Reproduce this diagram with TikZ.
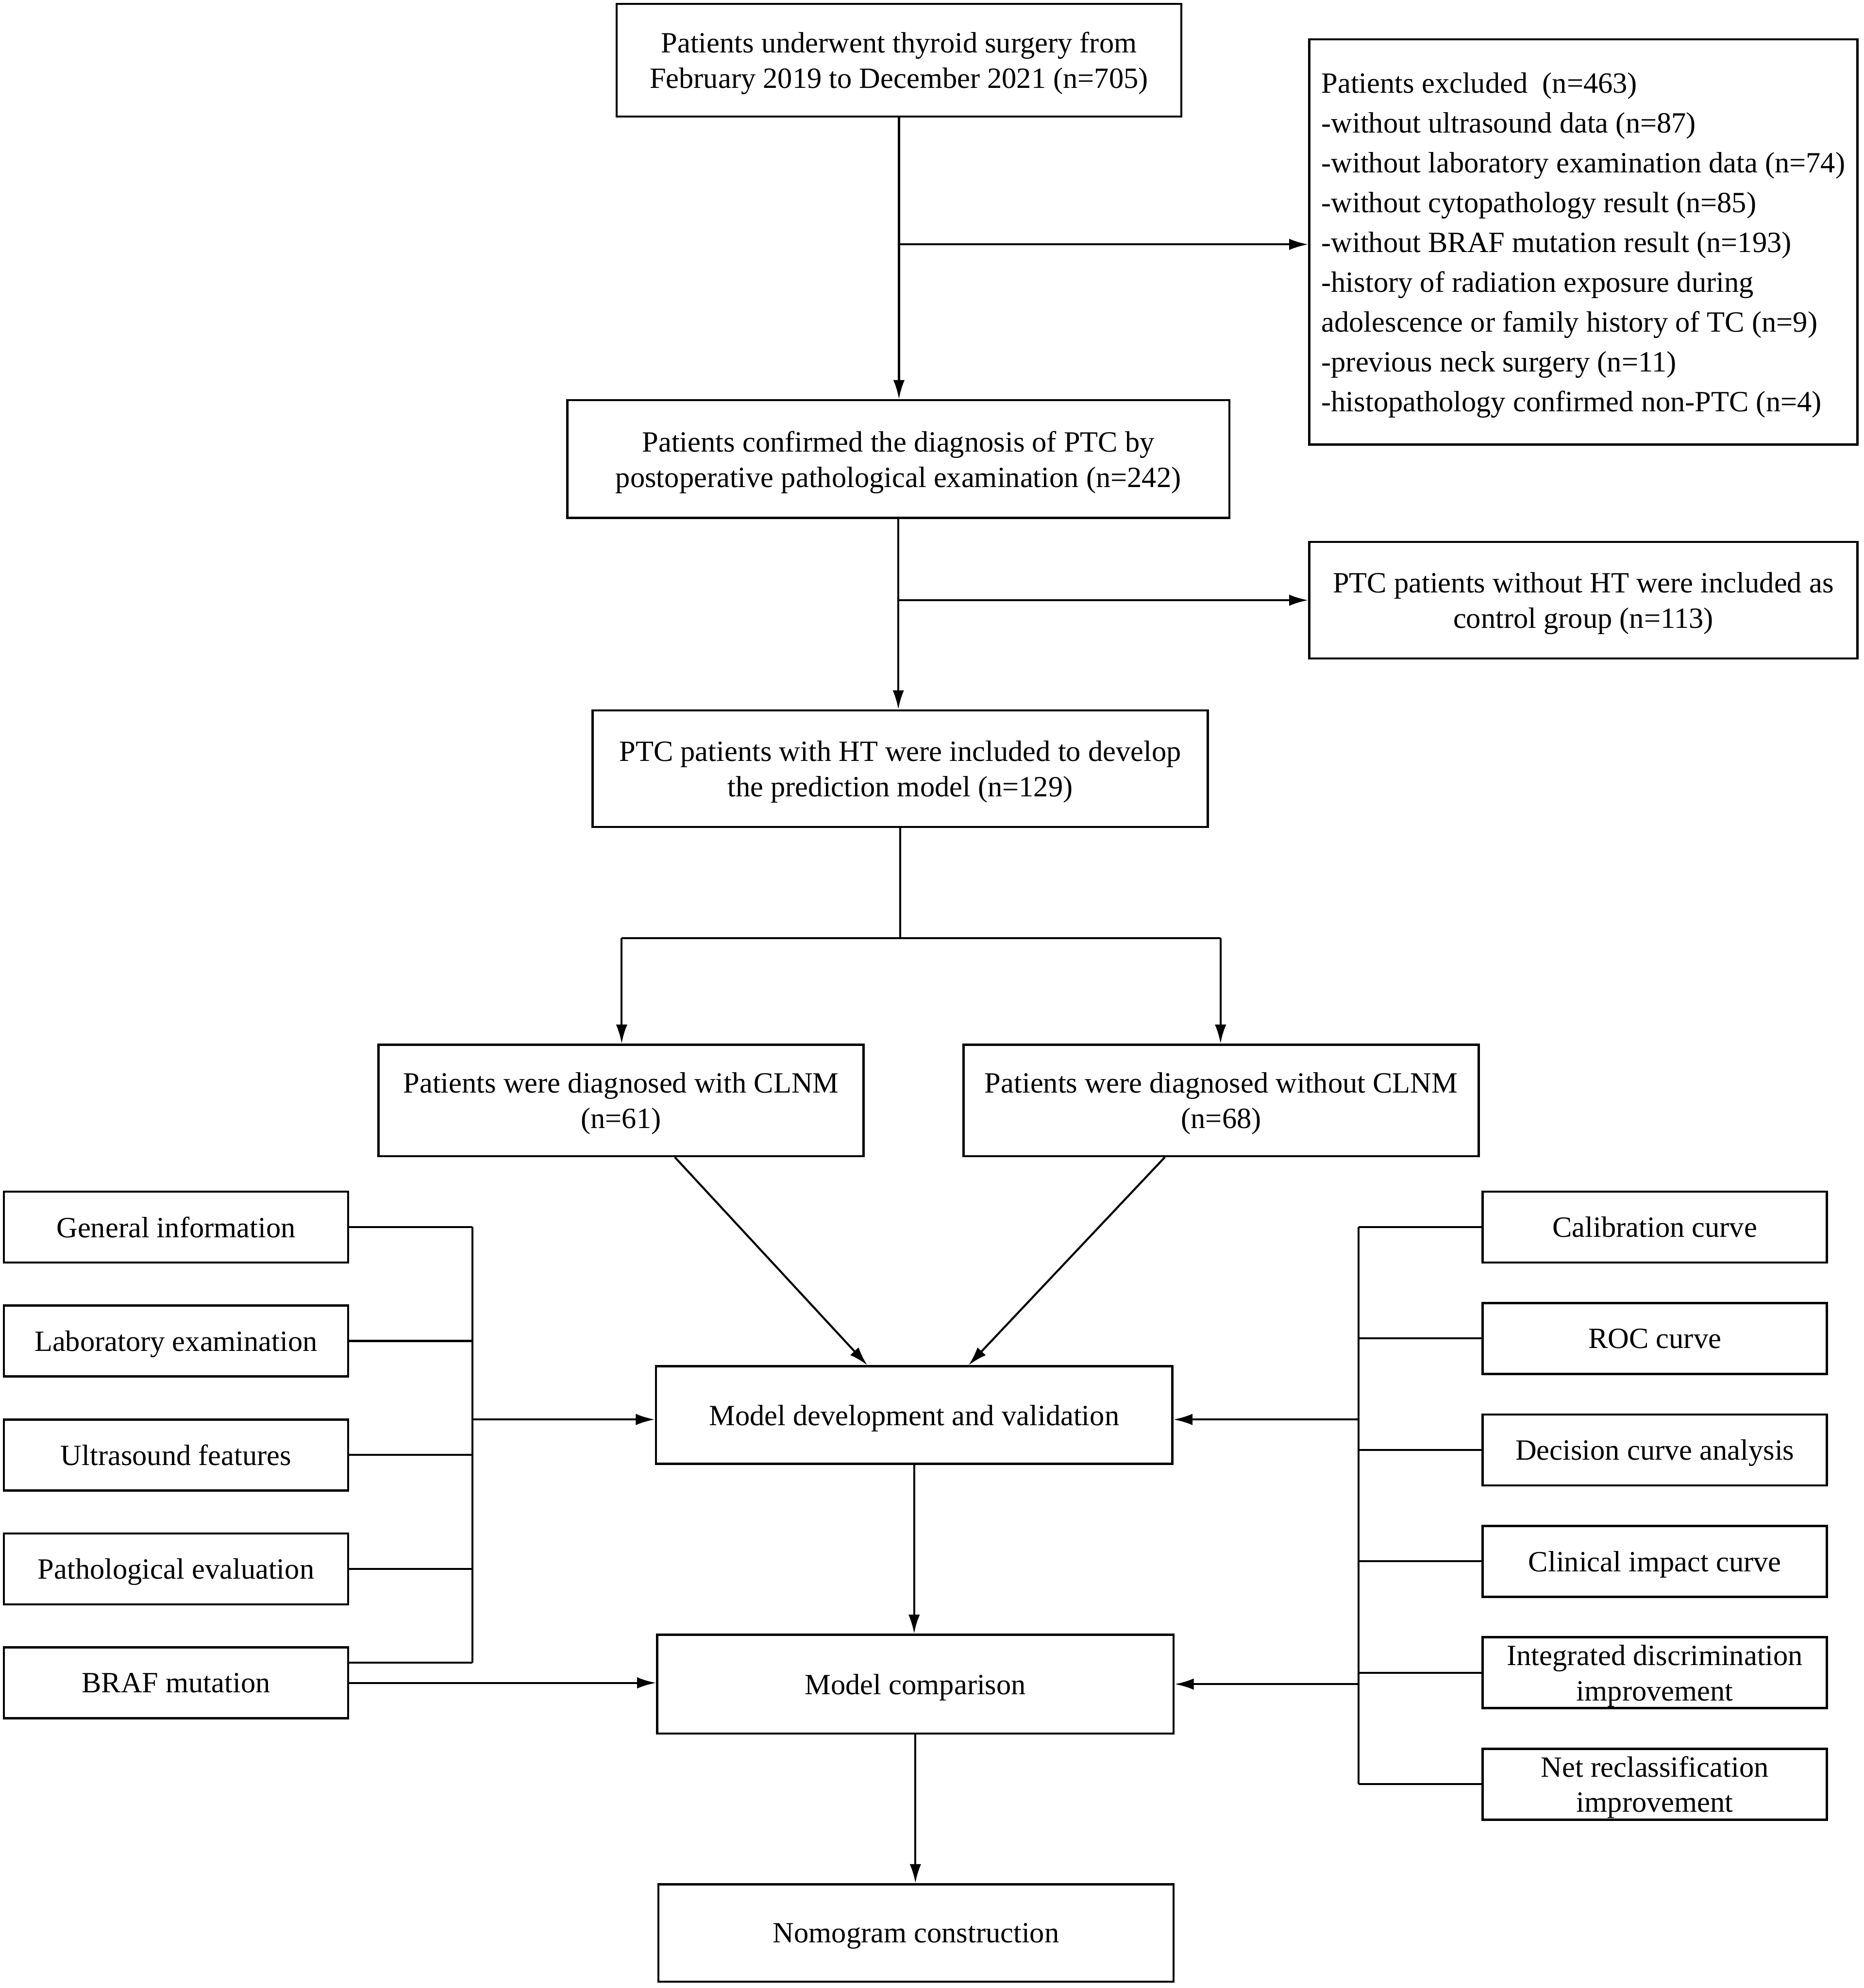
\documentclass[tikz,border=0pt]{standalone}
\usepackage{fontspec}
\setmainfont{Liberation Serif}
\usetikzlibrary{arrows.meta,calc}
\begin{document}
\begin{tikzpicture}[x=0.02cm,y=-0.02cm,
  box/.style={draw,line width=1pt,rectangle,inner sep=0pt,align=center,text depth=0pt,
    font=\fontsize{13.2}{15.9}\selectfont},
  sidebox/.style={box,minimum width=5.44cm,minimum height=1.12cm},
  conn/.style={line width=0.9pt},
  arr/.style={conn,-{Latex[length=0.3cm,width=0.18cm]}}]
\useasboundingbox (0,0) rectangle (1472,1570);
% main column
\node[box,minimum width=8.92cm,minimum height=1.78cm] (top) at (710,47.5)
  {Patients underwent thyroid surgery from\\February 2019 to December 2021 (n=705)};
\node[box,minimum width=8.66cm,minimum height=6.4cm,align=left,
  font=\fontsize{13.2}{17.9}\selectfont] (excl) at (1250.5,191)
  {Patients excluded\ \ (n=463)\\
   -without ultrasound data (n=87)\\
   -without laboratory examination data (n=74)\\
   -without cytopathology result (n=85)\\
   -without BRAF mutation result (n=193)\\
   -history of radiation exposure during\\
   adolescence or family history of TC (n=9)\\
   -previous neck surgery (n=11)\\
   -histopathology confirmed non-PTC (n=4)};
\node[box,minimum width=10.46cm,minimum height=1.86cm] (ptc) at (709.5,362.5)
  {Patients confirmed the diagnosis of PTC by\\postoperative pathological examination (n=242)};
\node[box,minimum width=8.66cm,minimum height=1.84cm] (ctrl) at (1250.5,474)
  {PTC patients without HT were included as\\control group (n=113)};
\node[box,minimum width=9.72cm,minimum height=1.84cm] (ht) at (711,607)
  {PTC patients with HT were included to develop\\the prediction model (n=129)};
\node[box,minimum width=7.66cm,minimum height=1.76cm] (clnm) at (490.5,869)
  {Patients were diagnosed with CLNM\\(n=61)};
\node[box,minimum width=8.14cm,minimum height=1.76cm] (noclnm) at (964.5,869)
  {Patients were diagnosed without CLNM\\(n=68)};
\node[box,minimum width=8.16cm,minimum height=1.54cm] (dev) at (722,1117.5)
  {Model development and validation};
\node[box,minimum width=8.16cm,minimum height=1.56cm] (comp) at (723,1330)
  {Model comparison};
\node[box,minimum width=8.14cm,minimum height=1.54cm] (nomo) at (723.5,1526.5)
  {Nomogram construction};
% left boxes
\node[sidebox] (gen) at (139,969) {General information};
\node[sidebox] (lab) at (139,1059) {Laboratory examination};
\node[sidebox] (ult) at (139,1149) {Ultrasound features};
\node[sidebox] (pat) at (139,1239) {Pathological evaluation};
\node[sidebox] (braf) at (139,1329) {BRAF mutation};
% right boxes
\node[sidebox] (cal) at (1307,969) {Calibration curve};
\node[sidebox] (roc) at (1307,1057) {ROC curve};
\node[sidebox] (dca) at (1307,1145) {Decision curve analysis};
\node[sidebox] (cic) at (1307,1233) {Clinical impact curve};
\node[sidebox] (idi) at (1307,1321) {Integrated discrimination\\improvement};
\node[sidebox] (nri) at (1307,1409) {Net reclassification\\improvement};
% coordinates
\coordinate (b1) at (710,193);
\coordinate (b2) at (710,474);
\coordinate (sp) at (711,741);
\coordinate (spl) at (491,741);
\coordinate (spr) at (964,741);
\coordinate (lbt) at (373,969);
\coordinate (lbb) at (373,1313);
\coordinate (lba) at (373,1121);
\coordinate (rbt) at (1073,969);
\coordinate (rbb) at (1073,1409);
\coordinate (rba) at (1073,1121);
\coordinate (rbc) at (1073,1330);
% top flow
\draw[arr] (top.south) -- (top.south |- ptc.north);
\draw[arr] (b1) -- (b1 -| excl.west);
\draw[arr] (ptc.south) -- (ptc.south |- ht.north);
\draw[arr] (b2) -- (b2 -| ctrl.west);
\draw[conn] (ht.south) -- (ht.south |- sp);
\draw[conn] (spl) -- (spr);
\draw[arr] (spl) -- (spl |- clnm.north);
\draw[arr] (spr) -- (spr |- noclnm.north);
\draw[arr] ([xshift=0.85cm]clnm.south) -- ([xshift=-0.74cm]dev.north);
\draw[arr] ([xshift=-0.89cm]noclnm.south) -- ([xshift=0.86cm]dev.north);
% left bus
\draw[conn] (gen.east) -- (gen.east -| lbt);
\draw[conn] (lab.east) -- (lab.east -| lbt);
\draw[conn] (ult.east) -- (ult.east -| lbt);
\draw[conn] (pat.east) -- (pat.east -| lbt);
\draw[conn] (braf.east |- lbb) -- (lbb);
\draw[conn] (lbt) -- (lbb);
\draw[arr] (lba) -- (lba -| dev.west);
\draw[arr] (braf.east) -- (braf.east -| comp.west);
% right bus
\draw[conn] (cal.west) -- (cal.west -| rbt);
\draw[conn] (roc.west) -- (roc.west -| rbt);
\draw[conn] (dca.west) -- (dca.west -| rbt);
\draw[conn] (cic.west) -- (cic.west -| rbt);
\draw[conn] (idi.west) -- (idi.west -| rbt);
\draw[conn] (nri.west) -- (nri.west -| rbt);
\draw[conn] (rbt) -- (rbb);
\draw[arr] (rba) -- (rba -| dev.east);
\draw[arr] (rbc) -- (rbc -| comp.east);
% bottom flow
\draw[arr] (dev.south) -- (dev.south |- comp.north);
\draw[arr] (comp.south) -- (comp.south |- nomo.north);
\end{tikzpicture}
\end{document}
